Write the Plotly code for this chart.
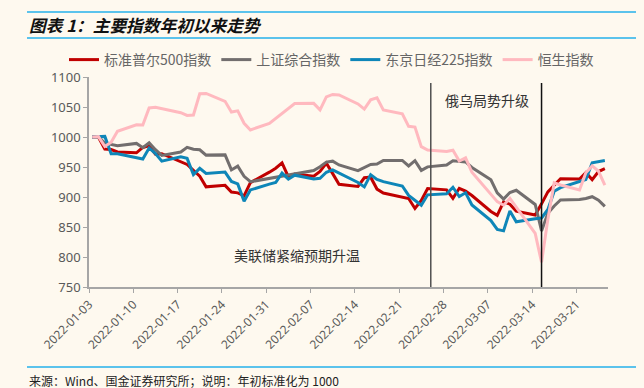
import plotly.graph_objects as go

# ---------------- data (normalised, start of year = 1000) ----------------
spx_dates = ["2022-01-03","2022-01-04","2022-01-05","2022-01-06","2022-01-07","2022-01-10","2022-01-11","2022-01-12",
             "2022-01-13","2022-01-14","2022-01-18","2022-01-19","2022-01-20","2022-01-21","2022-01-24","2022-01-25",
             "2022-01-26","2022-01-27","2022-01-28","2022-01-31","2022-02-01","2022-02-02","2022-02-03","2022-02-04",
             "2022-02-07","2022-02-08","2022-02-09","2022-02-10","2022-02-11","2022-02-14","2022-02-15","2022-02-16",
             "2022-02-17","2022-02-18","2022-02-22","2022-02-23","2022-02-24","2022-02-25","2022-02-28","2022-03-01",
             "2022-03-02","2022-03-03","2022-03-04","2022-03-07","2022-03-08","2022-03-09","2022-03-10","2022-03-11",
             "2022-03-14","2022-03-15","2022-03-16","2022-03-17","2022-03-18","2022-03-21","2022-03-22","2022-03-23",
             "2022-03-24","2022-03-25"]
spx_values = [1000,999.4,980.0,979.1,975.1,973.7,982.6,985.4,971.3,972.1,954.3,945.0,934.6,916.9,919.4,908.2,
              906.9,902.0,924.0,941.4,947.9,956.8,933.4,938.3,934.8,942.7,956.4,939.0,921.2,917.7,932.1,933.0,
              913.2,906.7,897.5,880.9,894.1,914.1,911.9,897.8,914.5,909.7,902.5,875.9,869.5,891.9,888.0,876.5,
              870.0,888.6,908.5,919.7,930.4,930.1,940.6,929.0,942.4,947.1]

sse_dates = ["2022-01-03","2022-01-04","2022-01-05","2022-01-06","2022-01-07","2022-01-10","2022-01-11","2022-01-12",
             "2022-01-13","2022-01-14","2022-01-17","2022-01-18","2022-01-19","2022-01-20","2022-01-21","2022-01-24",
             "2022-01-25","2022-01-26","2022-01-27","2022-01-28","2022-02-07","2022-02-08","2022-02-09","2022-02-10",
             "2022-02-11","2022-02-14","2022-02-15","2022-02-16","2022-02-17","2022-02-18","2022-02-21","2022-02-22",
             "2022-02-23","2022-02-24","2022-02-25","2022-02-28","2022-03-01","2022-03-02","2022-03-03","2022-03-04",
             "2022-03-07","2022-03-08","2022-03-09","2022-03-10","2022-03-11","2022-03-14","2022-03-15","2022-03-16",
             "2022-03-17","2022-03-18","2022-03-21","2022-03-22","2022-03-23","2022-03-24","2022-03-25"]
sse_values = [1000,1000,989.8,987.3,985.5,989.3,982.1,990.4,978.8,969.4,975.0,982.8,979.6,978.7,969.8,970.2,
              945.1,951.4,934.5,925.4,944.2,950.5,958.1,959.7,953.4,944.0,948.7,954.2,954.8,961.0,961.0,951.8,
              960.6,944.3,950.2,953.2,960.5,959.2,958.4,949.2,928.6,906.8,896.6,907.5,911.2,887.5,843.5,872.9,
              885.1,895.0,895.8,897.5,900.5,894.8,884.3]

nky_dates = ["2022-01-03","2022-01-04","2022-01-05","2022-01-06","2022-01-07","2022-01-11","2022-01-12","2022-01-13",
             "2022-01-14","2022-01-17","2022-01-18","2022-01-19","2022-01-20","2022-01-21","2022-01-24","2022-01-25",
             "2022-01-26","2022-01-27","2022-01-28","2022-01-31","2022-02-01","2022-02-02","2022-02-03","2022-02-04",
             "2022-02-07","2022-02-08","2022-02-09","2022-02-10","2022-02-14","2022-02-15","2022-02-16","2022-02-17",
             "2022-02-18","2022-02-21","2022-02-22","2022-02-24","2022-02-25","2022-02-28","2022-03-01","2022-03-02",
             "2022-03-03","2022-03-04","2022-03-07","2022-03-08","2022-03-09","2022-03-10","2022-03-11","2022-03-14",
             "2022-03-15","2022-03-16","2022-03-17","2022-03-18","2022-03-22","2022-03-23","2022-03-24","2022-03-25"]
nky_values = [1000,1000,1001.0,972.2,971.9,963.2,981.7,972.3,959.8,967.0,964.4,937.4,947.8,939.3,941.5,925.9,
              921.8,893.1,911.8,921.5,924.1,939.7,929.7,936.4,929.9,931.1,941.2,945.2,924.2,916.9,937.2,929.4,
              925.6,918.4,902.7,886.3,903.6,905.3,916.2,900.7,907.0,886.8,860.8,846.1,843.6,876.8,858.7,863.7,
              865.0,879.2,909.6,915.6,929.1,957.0,959.3,960.7]

hsi_dates = ["2022-01-03","2022-01-04","2022-01-05","2022-01-06","2022-01-07","2022-01-10","2022-01-11","2022-01-12",
             "2022-01-13","2022-01-14","2022-01-17","2022-01-18","2022-01-19","2022-01-20","2022-01-21","2022-01-24",
             "2022-01-25","2022-01-26","2022-01-27","2022-01-28","2022-01-31","2022-02-04","2022-02-07","2022-02-08",
             "2022-02-09","2022-02-10","2022-02-11","2022-02-14","2022-02-15","2022-02-16","2022-02-17","2022-02-18",
             "2022-02-21","2022-02-22","2022-02-23","2022-02-24","2022-02-25","2022-02-28","2022-03-01","2022-03-02",
             "2022-03-03","2022-03-04","2022-03-07","2022-03-08","2022-03-09","2022-03-10","2022-03-11","2022-03-14",
             "2022-03-15","2022-03-16","2022-03-17","2022-03-18","2022-03-21","2022-03-22","2022-03-23","2022-03-24",
             "2022-03-25"]
hsi_values = [1000,1000.6,984.2,991.3,1009.4,1020.3,1019.9,1048.4,1049.6,1047.6,1040.5,1036.0,1036.7,1072.1,1072.6,1059.4,
              1041.6,1043.6,1022.9,1011.8,1022.7,1055.8,1056.1,1045.3,1066.8,1070.9,1070.1,1055.1,1046.4,1062.0,1065.2,1045.2,
              1038.5,1017.8,1016.6,984.0,978.2,975.9,978.0,960.0,965.3,941.2,904.7,892.2,886.3,897.6,883.1,839.2,
              791.2,863.1,923.8,920.0,911.8,940.5,951.8,942.9,919.7]

series_names = ["标准普尔500指数", "上证综合指数", "东京日经225指数", "恒生指数"]
series_colors = ["#C00000", "#726E6E", "#0E86B8", "#FFB9BF"]

event_lines = ["2022-02-26", "2022-03-15 12:00"]
event_line_colors = ["#505050", "#111111"]
event_texts = ["美联储紧缩预期升温", "俄乌局势升级"]
event_text_pos = [("2022-02-04 19:00", 803), ("2022-03-06 20:00", 1061)]

y_ticks = [750, 800, 850, 900, 950, 1000, 1050, 1100]
x_range = ["2022-01-03", "2022-03-26"]

title_text = "<b><i>图表 1：主要指数年初以来走势</i></b>"
footer_text = "来源：Wind、国金证券研究所；说明：年初标准化为 1000"

BG = "#FEF9EF"
GREY = "#595959"
CJK = "Noto Sans CJK SC"

fig = go.Figure()
for d, v, n, c in zip([spx_dates, sse_dates, nky_dates, hsi_dates],
                      [spx_values, sse_values, nky_values, hsi_values],
                      series_names, series_colors):
    fig.add_trace(go.Scatter(x=d, y=v, name=n, mode="lines",
                             line=dict(color=c, width=3),
                             xperiod=86400000, xperiodalignment="middle"))

for xd, col in zip(event_lines, event_line_colors):
    fig.add_shape(type="line", xref="x", yref="y", x0=xd, x1=xd, y0=750, y1=1090,
                  line=dict(color=col, width=1.5))

for t, (xd, yv) in zip(event_texts, event_text_pos):
    fig.add_annotation(x=xd, y=yv, xref="x", yref="y", text=t, showarrow=False,
                       font=dict(family=CJK, size=14, color="#333333"))

# Decorative rules and texts
L, R, T, B = 89, 36, 77, 101
pw, ph = 644 - L - R, 388 - T - B
def px(x):
    return (x - L) / pw
def py(y):
    return (388 - B - y) / ph

for yy in [12, 38, 367]:
    fig.add_shape(type="line", xref="paper", yref="paper", x0=px(27), x1=px(636), y0=py(yy), y1=py(yy),
                  line=dict(color="#5BC3EC", width=2))

fig.add_annotation(x=px(27), y=py(25), xref="paper", yref="paper", xanchor="left", yanchor="middle",
                   text=title_text, showarrow=False, font=dict(family=CJK, size=16.7, color="#111111"))
fig.add_annotation(x=px(27), y=py(380), xref="paper", yref="paper", xanchor="left", yanchor="middle",
                   text=footer_text, showarrow=False, font=dict(family=CJK, size=12, color="#222222"))

fig.update_layout(
    width=644, height=388,
    margin=dict(l=L, r=R, t=T, b=B),
    paper_bgcolor=BG, plot_bgcolor=BG,
    showlegend=True,
    legend=dict(orientation="h", x=px(64), y=py(60), xanchor="left", yanchor="middle",
                font=dict(family=CJK, size=14, color="#666666"), bgcolor="rgba(0,0,0,0)",
                itemwidth=30, tracegroupgap=0),
    xaxis=dict(type="date", range=x_range, tick0="2022-01-03", dtick=7 * 86400000,
               tickformat="%Y-%m-%d", tickangle=-45, showgrid=False, zeroline=False,
               showline=True, linecolor="#A6A6A6", linewidth=1.5,
               ticks="outside", ticklen=4, tickcolor="#A6A6A6",
               tickfont=dict(family="Noto Sans", size=12, color=GREY)),
    yaxis=dict(range=[750, 1100], tickvals=y_ticks, showgrid=False, zeroline=False,
               showline=True, linecolor="#A6A6A6", linewidth=1.5,
               ticks="outside", ticklen=4, tickcolor="#A6A6A6",
               tickfont=dict(family="Noto Sans", size=13, color=GREY)),
)

fig.write_html("out.html", config={"displayModeBar": False},
               post_script="document.body.style.margin='0';document.body.style.background='" + BG + "';")
